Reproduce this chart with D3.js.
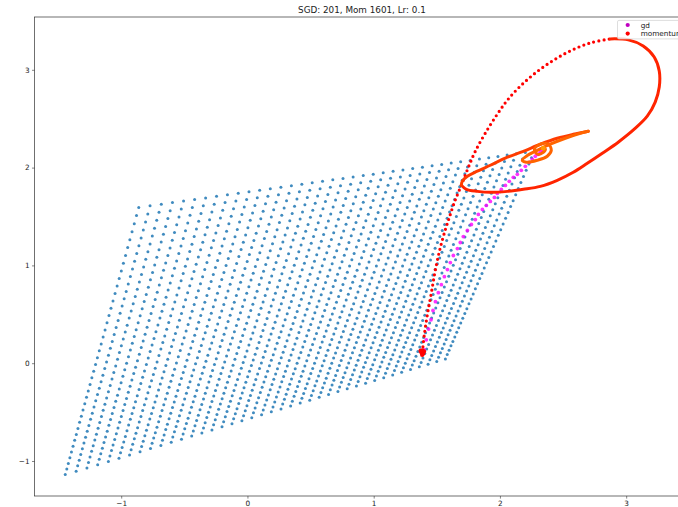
<!DOCTYPE html>
<html>
<head>
<meta charset="utf-8">
<script src="https://cdn.jsdelivr.net/npm/d3@7"></script>
<style>
  body { margin: 0; background: #fff; }
  svg { display: block; }
  text { font-family: "DejaVu Sans", sans-serif; fill: #222; }
</style>
</head>
<body>
<svg id="chart" width="678" height="507"></svg>
<script>
// ---- data -------------------------------------------------------------
const chartTitle = "SGD: 201, Mom 1601, Lr: 0.1";
const xTicks = [-1, 0, 1, 2, 3];
const yTicks = [-1, 0, 1, 2, 3];
const seriesNames = ["gd", "momentum"];

// corners of the sampled parameter lattice: bottom-left, bottom-right, top-right, top-left
const gridCorners = [[-1.443, -1.138], [1.568, 0.044], [2.272, 2.167], [-0.861, 1.593]];
const gridCounts = [40, 40];
const gridSpacingBias = [1.117, 0.8];

// plain gradient descent iterates
const gdPath = [
  [1.401, 0.136], [1.417, 0.239], [1.435, 0.349], [1.454, 0.444], [1.470, 0.539],
  [1.489, 0.629], [1.512, 0.721], [1.536, 0.803], [1.560, 0.885], [1.584, 0.957],
  [1.607, 1.029], [1.631, 1.101], [1.663, 1.172], [1.686, 1.234], [1.710, 1.295],
  [1.742, 1.357], [1.774, 1.418], [1.805, 1.469], [1.829, 1.521], [1.861, 1.572],
  [1.892, 1.613], [1.924, 1.654], [1.956, 1.695], [1.979, 1.736], [2.011, 1.777],
  [2.043, 1.818], [2.074, 1.860], [2.106, 1.901], [2.138, 1.931], [2.169, 1.972],
  [2.201, 2.013], [2.233, 2.054], [2.257, 2.085], [2.280, 2.116], [2.304, 2.136],
  [2.320, 2.157], [2.336, 2.178], [2.344, 2.188], [2.352, 2.198]
];

// momentum iterates: start cluster, fast rise, outer swing, inner loops
const momentumStart = [
  [1.378, 0.112], [1.392, 0.100], [1.386, 0.130], [1.372, 0.128], [1.398, 0.120], [1.384, 0.086]
];
const momentumRise = [
  [1.386, 0.116], [1.401, 0.290], [1.425, 0.495], [1.457, 0.721], [1.489, 0.957],
  [1.528, 1.183], [1.568, 1.367], [1.599, 1.490], [1.639, 1.644], [1.694, 1.819],
  [1.750, 2.003], [1.805, 2.167], [1.884, 2.352], [1.979, 2.546], [2.059, 2.690],
  [2.162, 2.834], [2.280, 2.967], [2.415, 3.090], [2.557, 3.193], [2.716, 3.275],
  [2.874, 3.316]
];
const momentumOuter = [
  [2.874, 3.316], [3.017, 3.306], [3.135, 3.244], [3.222, 3.131], [3.262, 2.988],
  [3.262, 2.824], [3.230, 2.670], [3.167, 2.526], [3.064, 2.393], [2.937, 2.260],
  [2.811, 2.147], [2.692, 2.044], [2.581, 1.952], [2.454, 1.870], [2.320, 1.808],
  [2.185, 1.778], [2.059, 1.757], [1.924, 1.747], [1.821, 1.757], [1.734, 1.778],
  [1.694, 1.819]
];
const momentumBack = [
  [1.694, 1.819], [1.702, 1.860], [1.742, 1.911], [1.821, 1.963], [1.924, 2.024],
  [2.059, 2.106], [2.185, 2.167], [2.320, 2.239], [2.454, 2.300], [2.581, 2.341],
  [2.700, 2.372]
];
const momentumInner = [
  [2.700, 2.372], [2.637, 2.351], [2.518, 2.300], [2.399, 2.239], [2.296, 2.177],
  [2.209, 2.116], [2.177, 2.075], [2.209, 2.055], [2.296, 2.075], [2.375, 2.116],
  [2.407, 2.178], [2.383, 2.239], [2.320, 2.239], [2.273, 2.188], [2.296, 2.137],
  [2.344, 2.157], [2.360, 2.188], [2.344, 2.198]
];

// ---- layout -----------------------------------------------------------
const W = 678, H = 507;
const plot = { left: 34.6, right: 689.3, top: 17, bottom: 496 };
const xDomain = [-1.686, 3.50];
const yDomain = [-1.358, 3.54];

const svg = d3.select("#chart");
svg.append("rect").attr("width", W).attr("height", H).attr("fill", "#fff");

const x = d3.scaleLinear().domain(xDomain).range([plot.left, plot.right]);
const y = d3.scaleLinear().domain(yDomain).range([plot.bottom, plot.top]);

svg.append("defs").append("clipPath").attr("id", "plotClip")
  .append("rect")
  .attr("x", plot.left).attr("y", plot.top)
  .attr("width", plot.right - plot.left).attr("height", plot.bottom - plot.top);

const g = svg.append("g").attr("clip-path", "url(#plotClip)");

// ---- lattice of sampled parameters ---------------------------------------
function bias(u, b) { return b * u + (1 - b) * u * u; }
const [c00, c10, c11, c01] = gridCorners;
const gridPoints = [];
for (let i = 0; i < gridCounts[0]; i++) {
  for (let j = 0; j < gridCounts[1]; j++) {
    const s = bias(i / (gridCounts[0] - 1), gridSpacingBias[0]);
    const t = bias(j / (gridCounts[1] - 1), gridSpacingBias[1]);
    const px = (1 - s) * (1 - t) * c00[0] + s * (1 - t) * c10[0] + s * t * c11[0] + (1 - s) * t * c01[0];
    const py = (1 - s) * (1 - t) * c00[1] + s * (1 - t) * c10[1] + s * t * c11[1] + (1 - s) * t * c01[1];
    gridPoints.push([px, py]);
  }
}
g.append("g").selectAll("circle").data(gridPoints).join("circle")
  .attr("cx", d => x(d[0])).attr("cy", d => y(d[1]))
  .attr("r", 1.5).attr("fill", "#1f77b4").attr("fill-opacity", 0.85);

// ---- gd iterates ----------------------------------------------------------
const gdColor = "#ff00ff";
g.append("g").selectAll("circle").data(gdPath).join("circle")
  .attr("cx", d => x(d[0])).attr("cy", d => y(d[1]))
  .attr("r", 1.9).attr("fill", gdColor).attr("fill-opacity", 0.8);

// ---- momentum iterates ----------------------------------------------------
const line = d3.line().x(d => x(d[0])).y(d => y(d[1])).curve(d3.curveCatmullRom.alpha(0.5));

g.append("path").datum(momentumRise)
  .attr("d", line).attr("fill", "none")
  .attr("stroke", "#ff0000").attr("stroke-width", 3.2)
  .attr("stroke-linecap", "round").attr("stroke-dasharray", "0 5.2");

const momentumLegs = [
  { pts: momentumOuter, color: "#ff2400" },
  { pts: momentumBack, color: "#ff3c00" },
  { pts: momentumInner, color: "#ff6400" }
];
momentumLegs.forEach(leg => {
  g.append("path").datum(leg.pts)
    .attr("d", line).attr("fill", "none")
    .attr("stroke", leg.color).attr("stroke-width", 3)
    .attr("stroke-linecap", "round").attr("stroke-linejoin", "round");
});

g.append("g").selectAll("circle").data(momentumStart).join("circle")
  .attr("cx", d => x(d[0])).attr("cy", d => y(d[1]))
  .attr("r", 2.2).attr("fill", "#ff0000");

const endPt = momentumInner[momentumInner.length - 1];
g.append("circle").attr("cx", x(endPt[0])).attr("cy", y(endPt[1]))
  .attr("r", 2.4).attr("fill", "#ff9a00");

// ---- axes -------------------------------------------------------------------
const axisColor = "#333";
const xAxis = svg.append("g").attr("transform", `translate(0,${plot.bottom})`)
  .call(d3.axisBottom(x).tickValues(xTicks).tickSize(2.6).tickPadding(2.4)
    .tickFormat(d => d3.format("")(d).replace("-", "\u2212")));
const yAxis = svg.append("g").attr("transform", `translate(${plot.left},0)`)
  .call(d3.axisLeft(y).tickValues(yTicks).tickSize(2.6).tickPadding(2.4)
    .tickFormat(d => d3.format("")(d).replace("-", "\u2212")));
[xAxis, yAxis].forEach(a => {
  a.select(".domain").remove();
  a.selectAll(".tick line").attr("stroke", axisColor).attr("stroke-width", 0.6);
  a.selectAll(".tick text").attr("font-size", 7.3).attr("font-family", "DejaVu Sans").attr("fill", "#222");
});

// spines
svg.append("rect")
  .attr("x", plot.left).attr("y", plot.top)
  .attr("width", plot.right - plot.left).attr("height", plot.bottom - plot.top)
  .attr("fill", "none").attr("stroke", axisColor).attr("stroke-width", 0.7);

// title
svg.append("text")
  .attr("x", (plot.left + plot.right) / 2).attr("y", 13)
  .attr("text-anchor", "middle").attr("font-size", 8.8)
  .text(chartTitle);

// ---- legend ---------------------------------------------------------------
const legendColors = ["#c000c0", "#ff0000"];
const leg = svg.append("g");
const legRight = plot.right - 3.6, legTop = plot.top + 3.4;
leg.append("rect")
  .attr("x", 617.5).attr("y", legTop)
  .attr("width", legRight - 617.5).attr("height", 18.5)
  .attr("rx", 1.5).attr("fill", "#fff").attr("fill-opacity", 0.8)
  .attr("stroke", "#d0d0d0").attr("stroke-width", 0.7);
seriesNames.forEach((name, i) => {
  const cy = legTop + 4.6 + i * 8.6;
  leg.append("circle").attr("cx", 627.7).attr("cy", cy).attr("r", 2.1).attr("fill", legendColors[i]);
  leg.append("text").attr("x", 640.7).attr("y", cy).attr("dy", "0.35em")
    .attr("font-size", 7.3).text(name);
});
</script>
</body>
</html>
